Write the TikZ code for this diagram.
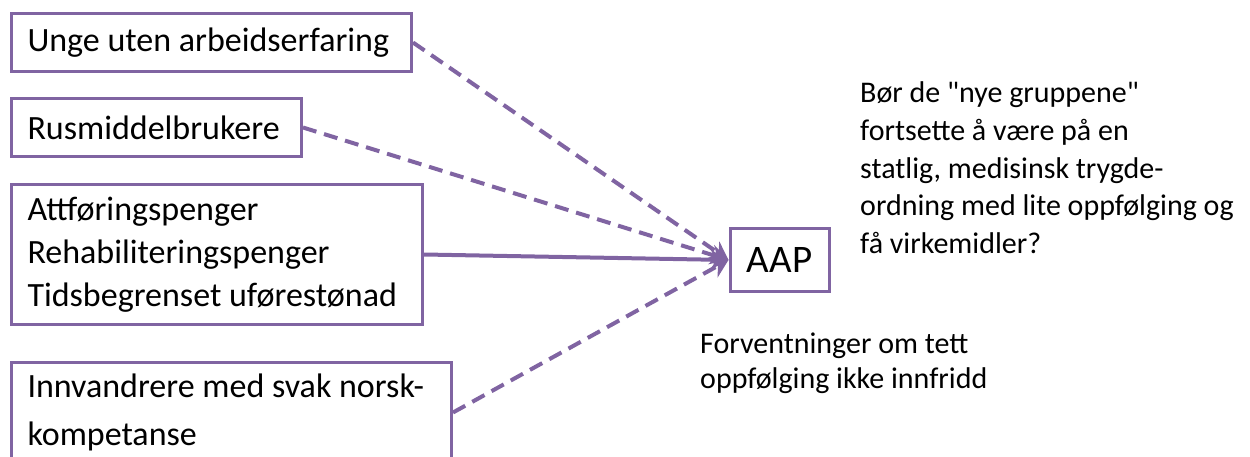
\documentclass[tikz,border=0pt]{standalone}
\usepackage{fontspec}
\setmainfont{Carlito}
\newfontfamily\plaincarlito{Carlito}
\usetikzlibrary{arrows.meta}
\definecolor{pur}{HTML}{8064A2}
\begin{document}
\begin{tikzpicture}[x=1pt,y=-1pt,
  box/.style={draw=pur,line width=3pt,anchor=north west,align=flush left,inner xsep=16pt,inner ysep=0pt,font=\fontsize{34}{43}\selectfont},
  link/.style={draw=pur,line width=4pt,-{Stealth[length=18pt,width=20pt,inset=6pt]}},
  dlink/.style={link,dash pattern=on 14pt off 8pt},
  note/.style={anchor=base west,align=left,inner sep=0pt,font=\fontsize{30}{37.5}\selectfont}]
\useasboundingbox (0,0) rectangle (1250,457);
\node[box,minimum width=400pt,minimum height=58pt,text width=368pt] (b1) at (10,12) {Unge uten arbeidserfaring};
\node[box,minimum width=290pt,minimum height=58pt,text width=258pt] (b2) at (10,97) {Rusmiddelbrukere};
\node[box,minimum width=411pt,minimum height=140pt,text width=379pt] (b3) at (10,183) {Attføringspenger\\Rehabiliteringspenger\\Tidsbegrenset uførestønad};
\node[box,minimum width=440pt,minimum height=100pt,text width=408pt,font=\fontsize{34}{48}\selectfont] (b4) at (10,361) {Innvandrere med svak norsk-\\kompetanse};
\node[draw=pur,line width=3pt,minimum width=99pt,minimum height=62pt,inner sep=0pt,font=\fontsize{39}{44}\selectfont] (aap) at (779.5,260) {AAP};
\draw[dlink] (b1.east) -- (aap.west);
\draw[dlink] (b2.east) -- (aap.west);
\draw[link] (b3.east) -- (aap.west);
\draw[dlink] (b4.east) -- (aap.west);
\node[note] (q) at (860,253) {Bør de {\plaincarlito"}nye gruppene{\plaincarlito"}\\fortsette å være på en\\statlig, medisinsk trygde-\\ordning med lite oppfølging og\\få virkemidler?};
\node[note,font=\fontsize{30}{35}\selectfont] (f) at (700,388) {Forventninger om tett\\oppfølging ikke innfridd};
\end{tikzpicture}
\end{document}
